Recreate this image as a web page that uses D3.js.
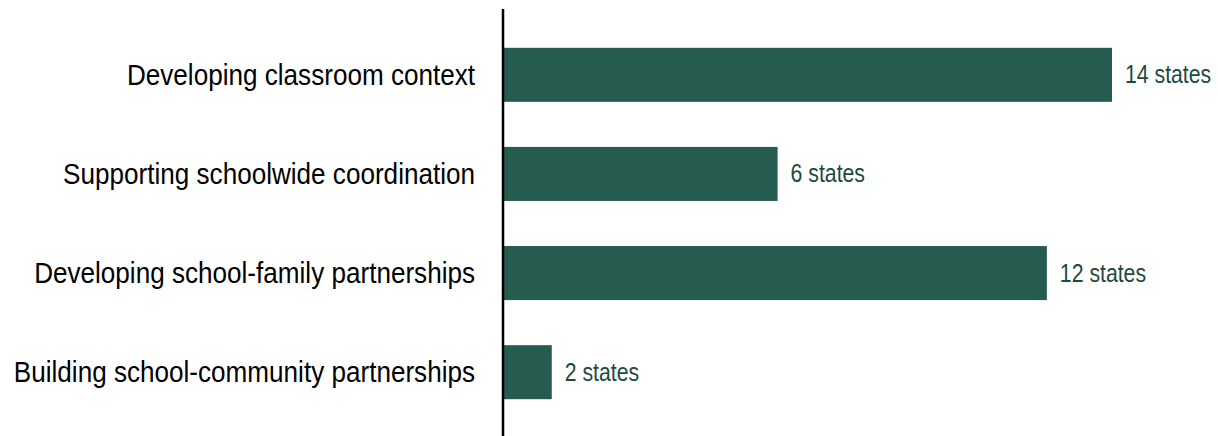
<!DOCTYPE html>
<html>
<head>
<meta charset="utf-8">
<script src="https://cdn.jsdelivr.net/npm/d3@7"></script>
<style>
  body { margin: 0; background: #fff; }
  svg text { font-family: "Liberation Sans", Arial, sans-serif; }
</style>
</head>
<body>
<div id="chart"></div>
<script>
const categories = [
    'Developing classroom context',
    'Supporting schoolwide coordination',
    'Developing school-family partnerships',
    'Building school-community partnerships'
];
// bar lengths as drawn in the original
const barValues = [14, 6.3, 12.5, 1.1];
const valueLabels = ['14 states', '6 states', '12 states', '2 states'];

const svgWidth = 1218;
const svgHeight = 436;
const margin = { top: 25, right: 106, bottom: 10, left: 504 };

// the original uses a narrow face, so squeeze the text horizontally
const labelSqueeze = 0.9;
const valueSqueeze = 0.85;

const svg = d3.select('#chart')
    .append('svg')
    .attr('width', svgWidth)
    .attr('height', svgHeight);

const bounds = svg.append('g')
    .attr('transform', `translate(${margin.left}, ${margin.top})`);

const yScale = d3.scaleBand()
    .domain(categories)
    .range([0, 397])
    .paddingInner(0.455)
    .paddingOuter(0.23);

const xScale = d3.scaleLinear()
    .domain([0, 14])
    .range([0, 608]);

bounds.selectAll('rect')
    .data(categories)
    .join('rect')
    .attr('x', 0)
    .attr('y', d => yScale(d))
    .attr('width', (d, i) => xScale(barValues[i]))
    .attr('height', yScale.bandwidth())
    .attr('fill', '#265b50');

bounds.selectAll('.value')
    .data(categories)
    .join('text')
    .attr('class', 'value')
    .attr('transform', (d, i) =>
        `translate(${xScale(barValues[i]) + 13}, ${yScale(d) + yScale.bandwidth() / 2}) scale(${valueSqueeze}, 1)`)
    .attr('dy', '0.34em')
    .attr('font-size', 25)
    .attr('fill', '#1d4a3e')
    .text((d, i) => valueLabels[i]);

const yAxis = bounds.append('g')
    .call(d3.axisLeft(yScale).tickSize(0).tickPadding(29));

yAxis.select('.domain').remove();
yAxis.selectAll('text')
    .attr('font-size', 29)
    .attr('fill', '#000')
    .attr('font-family', '"Liberation Sans", Arial, sans-serif')
    .attr('x', -29 / labelSqueeze)
    .attr('dy', '0.35em')
    .attr('transform', `scale(${labelSqueeze}, 1)`);

svg.append('line')
    .attr('x1', margin.left - 1)
    .attr('x2', margin.left - 1)
    .attr('y1', 9)
    .attr('y2', svgHeight)
    .attr('stroke', '#000')
    .attr('stroke-width', 2.5);
</script>
</body>
</html>
